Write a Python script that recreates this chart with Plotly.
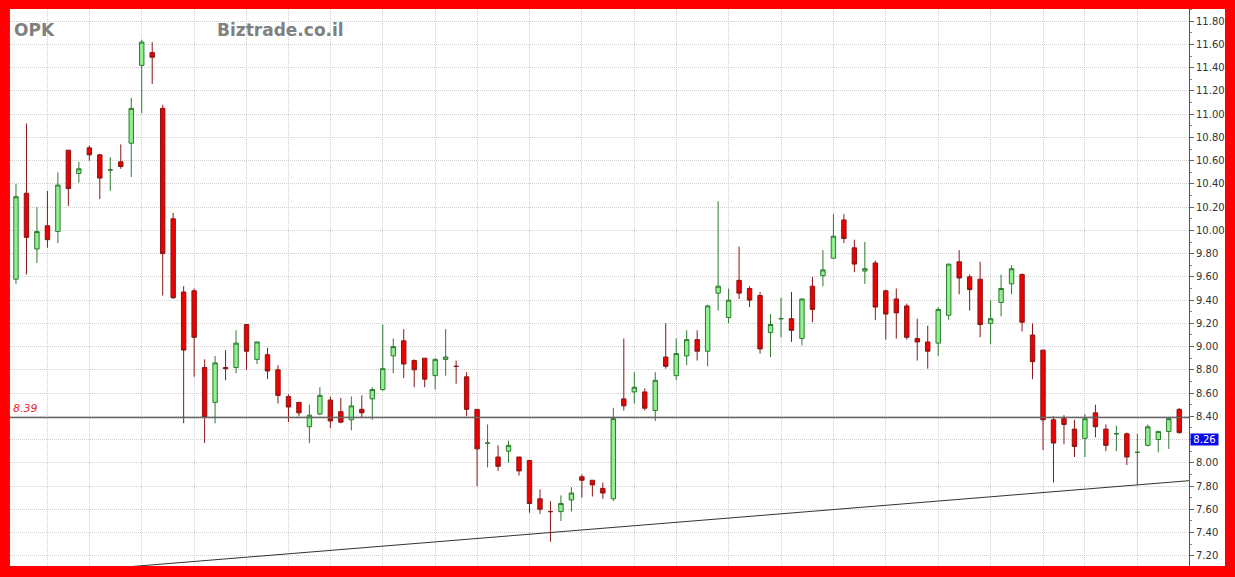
import plotly.graph_objects as go

ticker = "OPK"
source = "Biztrade.co.il"

# Daily OHLC, oldest session first
open_ = [9.58, 10.32, 9.84, 10.04, 9.99, 10.69, 10.49, 10.71, 10.65, 10.52,
         10.59, 10.75, 11.42, 11.53, 11.05, 10.10, 9.47, 9.48, 8.82, 8.52,
         8.82, 8.82, 9.19, 8.89, 8.93, 8.80, 8.57, 8.52, 8.31, 8.42,
         8.54, 8.44, 8.37, 8.46, 8.55, 8.63, 8.92, 9.05, 8.88, 8.90,
         8.75, 8.89, 8.83, 8.74, 8.46, 8.17, 8.05, 8.10, 8.05, 8.02,
         7.69, 7.58, 7.58, 7.68, 7.88, 7.85, 7.78, 7.69, 8.55, 8.61,
         8.61, 8.45, 8.91, 8.75, 8.92, 9.06, 8.96, 9.46, 9.25, 9.57,
         9.50, 9.44, 9.12, 9.24, 9.24, 9.07, 9.52, 9.61, 9.76, 10.09,
         9.85, 9.65, 9.72, 9.48, 9.41, 9.35, 9.07, 9.04, 9.03, 9.27,
         9.73, 9.60, 9.58, 9.20, 9.38, 9.54, 9.62, 9.10, 8.97, 8.37,
         8.38, 8.29, 8.21, 8.43, 8.29, 8.25, 8.25, 8.09, 8.15, 8.20,
         8.27, 8.46]
high = [10.40, 10.92, 10.20, 10.34, 10.50, 10.69, 10.59, 10.73, 10.66, 10.63,
        10.74, 11.14, 11.64, 11.62, 11.08, 10.15, 9.52, 9.50, 8.89, 8.92,
        8.97, 9.14, 9.19, 9.04, 8.99, 8.84, 8.59, 8.52, 8.50, 8.65,
        8.57, 8.56, 8.57, 8.58, 8.65, 9.19, 9.07, 9.15, 8.89, 8.90,
        8.90, 9.15, 8.88, 8.78, 8.46, 8.33, 8.15, 8.19, 8.05, 8.02,
        7.77, 7.67, 7.72, 7.79, 7.90, 7.85, 7.83, 8.47, 9.07, 8.78,
        8.64, 8.78, 9.20, 9.07, 9.14, 9.14, 9.36, 10.25, 9.50, 9.86,
        9.52, 9.47, 9.28, 9.42, 9.47, 9.41, 9.60, 9.83, 10.14, 10.14,
        9.92, 9.90, 9.74, 9.49, 9.50, 9.37, 9.24, 9.18, 9.34, 9.71,
        9.83, 9.62, 9.73, 9.40, 9.62, 9.70, 9.63, 9.20, 8.97, 8.40,
        8.41, 8.37, 8.42, 8.50, 8.33, 8.32, 8.26, 8.25, 8.33, 8.27,
        8.38, 8.47]
low = [9.54, 9.62, 9.72, 9.85, 9.89, 10.21, 10.41, 10.60, 10.27, 10.34,
       10.53, 10.46, 11.01, 11.26, 9.44, 9.41, 8.34, 8.74, 8.17, 8.34,
       8.71, 8.77, 8.80, 8.85, 8.72, 8.51, 8.35, 8.40, 8.17, 8.41,
       8.30, 8.34, 8.28, 8.39, 8.37, 8.62, 8.77, 8.73, 8.65, 8.65,
       8.63, 8.75, 8.68, 8.40, 7.80, 7.96, 7.93, 8.00, 7.89, 7.57,
       7.56, 7.32, 7.50, 7.58, 7.70, 7.71, 7.69, 7.67, 8.45, 8.51,
       8.45, 8.36, 8.81, 8.71, 8.84, 8.88, 8.83, 9.31, 9.20, 9.41,
       9.34, 8.94, 8.91, 9.08, 9.04, 9.01, 9.21, 9.52, 9.76, 9.89,
       9.64, 9.54, 9.23, 9.06, 9.07, 9.06, 8.88, 8.81, 8.92, 9.23,
       9.45, 9.31, 9.08, 9.02, 9.26, 9.45, 9.13, 8.72, 8.11, 7.83,
       8.16, 8.05, 8.05, 8.22, 8.10, 8.10, 7.98, 7.81, 8.14, 8.09,
       8.12, 8.25]
close = [10.29, 9.94, 9.99, 9.92, 10.39, 10.36, 10.53, 10.65, 10.45, 10.52,
         10.55, 11.05, 11.62, 11.49, 9.80, 9.42, 8.97, 9.08, 8.39, 8.86,
         8.81, 9.03, 8.96, 9.04, 8.79, 8.58, 8.48, 8.43, 8.41, 8.58,
         8.36, 8.35, 8.49, 8.43, 8.63, 8.81, 9.00, 8.85, 8.80, 8.72,
         8.89, 8.91, 8.83, 8.46, 8.12, 8.17, 7.97, 8.15, 7.93, 7.65,
         7.60, 7.58, 7.65, 7.74, 7.85, 7.81, 7.74, 8.38, 8.49, 8.65,
         8.47, 8.71, 8.83, 8.94, 9.06, 8.96, 9.35, 9.52, 9.40, 9.46,
         9.40, 8.98, 9.19, 9.24, 9.14, 9.41, 9.32, 9.66, 9.95, 9.93,
         9.71, 9.67, 9.34, 9.28, 9.29, 9.08, 9.04, 8.96, 9.32, 9.71,
         9.59, 9.49, 9.19, 9.24, 9.50, 9.67, 9.21, 8.87, 8.37, 8.17,
         8.33, 8.14, 8.38, 8.31, 8.15, 8.25, 8.05, 8.09, 8.31, 8.27,
         8.38, 8.26]

sessions = list(range(len(close)))

# Sessions that open a new trading week (vertical grid)
week_starts = [3, 7, 12, 17, 22, 26, 30, 35, 40, 44, 49, 54, 59, 63, 68,
               73, 78, 83, 88, 93, 98, 102, 107]

# Price scale: grid every 0.20; the 8.20 label sits under the last-price tag
price_ticks = [7.20, 7.40, 7.60, 7.80, 8.00, 8.20, 8.40, 8.60, 8.80, 9.00,
               9.20, 9.40, 9.60, 9.80, 10.00, 10.20, 10.40, 10.60, 10.80,
               11.00, 11.20, 11.40, 11.60, 11.80]
hidden_tick = 8.20

# Horizontal reference level and rising trend line through two lows
support_level = 8.39
trend_x = [51, 107]
trend_y = [7.40, 7.81]

x_range = [-0.57, 111.93]
y_range = [7.112, 11.905]

# Extend the trend line across the whole plotting window
slope = (trend_y[1] - trend_y[0]) / (trend_x[1] - trend_x[0])
trend_line_x = [x_range[0], x_range[1]]
trend_line_y = [trend_y[0] + slope * (xv - trend_x[0]) for xv in trend_line_x]

tick_text = ["" if abs(v - hidden_tick) < 1e-9 else f"{v:.2f}" for v in price_ticks]

fig = go.Figure()

fig.add_trace(go.Candlestick(
    x=sessions, open=open_, high=high, low=low, close=close,
    increasing=dict(fillcolor="#8ef08e", line=dict(color="#2f7a2f", width=1)),
    decreasing=dict(fillcolor="#ee0000", line=dict(color="#8a1616", width=1)),
    whiskerwidth=0,
    showlegend=False,
    hoverinfo="x+y",
))

fig.add_trace(go.Scatter(
    x=trend_line_x, y=trend_line_y, mode="lines",
    line=dict(color="#333333", width=1),
    showlegend=False, hoverinfo="skip",
))

L, R, T, B = 10, 46, 9, 11
W, H = 1235, 577
plot_w = W - L - R

grid_color = "#cfcfcf"
grid_dash = "1px,1px"

fig.update_layout(
    width=W, height=H,
    margin=dict(l=L, r=R, t=T, b=B, pad=0),
    paper_bgcolor="#ff0000",
    plot_bgcolor="#ffffff",
    boxgap=0.4,
    showlegend=False,
    xaxis=dict(
        range=x_range,
        tickmode="array", tickvals=week_starts,
        showticklabels=False, ticks="",
        showgrid=True, gridcolor=grid_color, gridwidth=1, griddash=grid_dash,
        zeroline=False, showline=False,
        rangeslider=dict(visible=False),
    ),
    yaxis=dict(
        side="right",
        range=y_range,
        tickmode="array", tickvals=price_ticks, ticktext=tick_text,
        showgrid=True, gridcolor=grid_color, gridwidth=1, griddash=grid_dash,
        zeroline=False,
        ticks="outside", ticklen=4, tickcolor="#666666", tickwidth=1,
        showline=True, linecolor="#555555", linewidth=1, mirror=True,
        tickfont=dict(family="DejaVu Sans", size=10, color="#333333"),
        minor=dict(dtick=0.1, tick0=7.1, ticks="outside", ticklen=2,
                   tickcolor="#888888", showgrid=False),
    ),
    shapes=[
        # white chart card behind plot and price scale
        dict(type="rect", xref="paper", yref="paper",
             x0=0, x1=(1225 - L) / plot_w, y0=0, y1=1,
             fillcolor="#ffffff", line=dict(width=0), layer="below"),
        dict(type="line", xref="paper", yref="y",
             x0=0, x1=1, y0=support_level, y1=support_level,
             line=dict(color="#666666", width=1.5)),
    ],
    annotations=[
        dict(text=ticker, xref="paper", yref="paper",
             x=(12 - L) / plot_w, y=(H - B - 30) / (H - T - B),
             xanchor="left", yanchor="middle", showarrow=False,
             font=dict(family="DejaVu Sans", size=17, color="#808080", weight="bold")),
        dict(text=source, xref="paper", yref="paper",
             x=(215 - L) / plot_w, y=(H - B - 30) / (H - T - B),
             xanchor="left", yanchor="middle", showarrow=False,
             font=dict(family="DejaVu Sans", size=17, color="#808080", weight="bold")),
        dict(text=f"{support_level:.2f}", xref="paper", yref="y",
             x=(11 - L) / plot_w, y=support_level,
             xanchor="left", yanchor="bottom", showarrow=False,
             font=dict(family="DejaVu Sans", size=11, color="#e8262b", style="italic")),
        dict(text=f"{close[-1]:.2f}", xref="paper", yref="y",
             x=(1189.5 - L) / plot_w, y=close[-1],
             xanchor="left", yanchor="top", showarrow=False,
             width=27, height=11, borderpad=0, align="center",
             bgcolor="#0a0aee",
             font=dict(family="DejaVu Sans", size=10, color="#ffffff")),
    ],
)

fig.write_html("out.html")
